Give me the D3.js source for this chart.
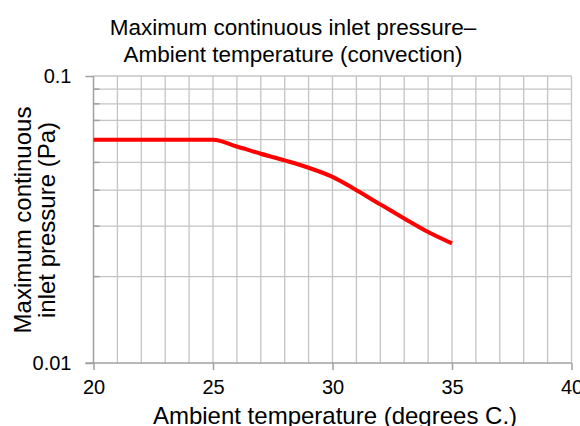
<!DOCTYPE html>
<html>
<head>
<meta charset="utf-8">
<script src="https://cdn.jsdelivr.net/npm/d3@7"></script>
<style>
html,body{margin:0;padding:0;background:#fff;}
svg{display:block;font-family:"Liberation Sans",Arial,sans-serif;}
</style>
</head>
<body>
<svg id="chart" width="580" height="426"></svg>
<script>
const temps = [20, 25, 26, 27, 28, 29, 30, 31, 32, 33, 34, 35];
const pressures = [0.06, 0.06, 0.0568, 0.0536, 0.0508, 0.0479, 0.0445, 0.040, 0.0357, 0.0319, 0.0286, 0.0261];
const xTicks = [20, 25, 30, 35, 40];
const xGrid = d3.range(20, 41, 1);
const yTicks = [0.01, 0.1];
const yTickLabels = ["0.01", "0.1"];
const yGrid = [0.02, 0.03, 0.04, 0.05, 0.06, 0.07, 0.08, 0.09];
const titleLines = ["Maximum continuous inlet pressure\u2013", "Ambient temperature (convection)"];
const xTitle = "Ambient temperature (degrees C.)";
const yTitleLines = ["Maximum continuous", "inlet pressure (Pa)"];

const svg = d3.select("#chart");
const L = 93.5, R = 571.5, T = 76, B = 363;
const x = d3.scaleLinear().domain([20, 40]).range([L, R]);
const y = d3.scaleLog().domain([0.01, 0.1]).range([B, T]);

// gridlines
const g = svg.append("g");
g.selectAll("line.vg").data(xGrid.slice(1)).join("line")
  .attr("x1", d => x(d)).attr("x2", d => x(d)).attr("y1", T).attr("y2", B)
  .attr("stroke", "#c4c4c4").attr("stroke-width", 1.3);
g.selectAll("line.hg").data(yGrid.concat([0.1])).join("line")
  .attr("x1", L).attr("x2", R).attr("y1", d => y(d)).attr("y2", d => y(d))
  .attr("stroke", "#c4c4c4").attr("stroke-width", 1.3);

// axes
const xAxis = d3.axisBottom(x).tickValues(xTicks).tickSize(7).tickPadding(10).tickFormat(d3.format("d"));
const xa = svg.append("g").attr("transform", `translate(0,${B})`).call(xAxis);
xa.select(".domain").attr("stroke", "#a0a0a0").attr("stroke-width", 1.5).attr("d", `M${L-8},0H${R}`);
xa.selectAll(".tick line").attr("stroke", "#a0a0a0").attr("stroke-width", 1.5);
xa.selectAll(".tick text").attr("font-size", 20).attr("fill", "#000").attr("font-family", "Liberation Sans, Arial, sans-serif");

const yAxis = d3.axisLeft(y).tickValues(yTicks).tickSize(8).tickPadding(14)
  .tickFormat((d, i) => yTickLabels[i]);
const ya = svg.append("g").attr("transform", `translate(${L},0)`).call(yAxis);
ya.select(".domain").attr("stroke", "#a0a0a0").attr("stroke-width", 1.5).attr("d", `M0,${B}V${T}`);
ya.selectAll(".tick line").attr("stroke", "#a0a0a0").attr("stroke-width", 1.5);
ya.selectAll(".tick text").attr("font-size", 20).attr("fill", "#000").attr("font-family", "Liberation Sans, Arial, sans-serif");
// minor ticks
ya.selectAll("line.minor").data(yGrid).join("line")
  .attr("x1", 0).attr("x2", 6).attr("y1", d => y(d)).attr("y2", d => y(d))
  .attr("stroke", "#a0a0a0").attr("stroke-width", 1.5);

// series
const line = d3.line().x((d, i) => x(temps[i])).y(d => y(d)).curve(d3.curveMonotoneX);
svg.append("path").datum(pressures)
  .attr("d", line).attr("fill", "none").attr("stroke", "#ff0000")
  .attr("stroke-width", 4).attr("stroke-linejoin", "round");

// title
svg.append("g").selectAll("text").data(titleLines).join("text")
  .attr("x", 293).attr("y", (d, i) => 35 + i * 26.5)
  .attr("text-anchor", "middle").attr("font-size", 22.5).attr("fill", "#000")
  .text(d => d);

// x title
svg.append("text").attr("x", 335).attr("y", 424)
  .attr("text-anchor", "middle").attr("font-size", 24).attr("fill", "#000").text(xTitle);

// y title
svg.append("g").attr("transform", "translate(0,220) rotate(-90)")
  .selectAll("text").data(yTitleLines).join("text")
  .attr("x", 0).attr("y", (d, i) => 31 + i * 24)
  .attr("text-anchor", "middle").attr("font-size", 24).attr("fill", "#000")
  .text(d => d);
</script>
</body>
</html>
